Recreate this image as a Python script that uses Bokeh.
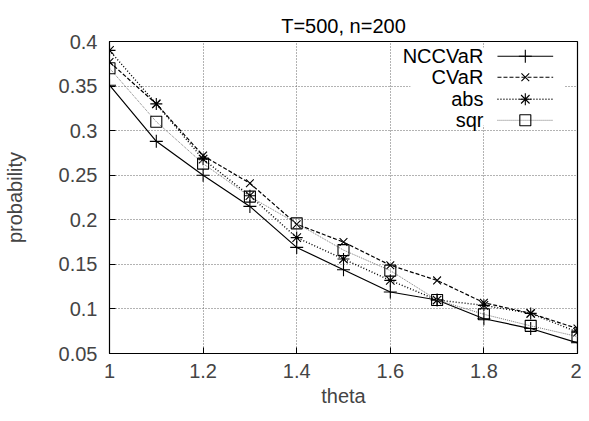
from bokeh.plotting import figure
from bokeh.models import Range1d
from bokeh.core.properties import value
from bokeh.embed import file_html
from bokeh.resources import INLINE

# ---- data ----
theta = [1.0, 1.1, 1.2, 1.3, 1.4, 1.5, 1.6, 1.7, 1.8, 1.9, 2.0]
nccvar = [0.351, 0.288, 0.250, 0.215, 0.169, 0.144, 0.119, 0.110, 0.089, 0.078, 0.062]
cvar = [0.377, 0.330, 0.272, 0.241, 0.195, 0.175, 0.149, 0.132, 0.107, 0.095, 0.078]
absv = [0.390, 0.330, 0.268, 0.227, 0.180, 0.156, 0.132, 0.110, 0.104, 0.095, 0.074]
sqr = [0.370, 0.310, 0.263, 0.226, 0.196, 0.166, 0.143, 0.110, 0.094, 0.081, 0.069]
series_names = ["NCCVaR", "CVaR", "abs", "sqr"]
x_ticks = [1.0, 1.2, 1.4, 1.6, 1.8, 2.0]
x_tick_labels = ["1", "1.2", "1.4", "1.6", "1.8", "2"]
y_ticks = [0.05, 0.1, 0.15, 0.2, 0.25, 0.3, 0.35, 0.4]
y_tick_labels = ["0.05", "0.1", "0.15", "0.2", "0.25", "0.3", "0.35", "0.4"]

FONT = "Liberation Sans"
FS = "20px"
X0, X1, Y0, Y1 = 1.0, 2.0, 0.05, 0.4

p = figure(width=581, height=413, output_backend="svg", toolbar_location=None,
           x_range=Range1d(X0, X1), y_range=Range1d(Y0, Y1),
           min_border_left=106, min_border_right=4, min_border_top=41, min_border_bottom=60,
           title="T=500, n=200")
p.title.align = "center"
p.title.text_font = FONT
p.title.text_font_size = FS
p.title.text_font_style = "normal"
p.title.text_color = "black"

p.outline_line_color = "black"
p.outline_line_width = 1.2
p.background_fill_color = "white"
p.border_fill_color = "white"

for ax in (p.xaxis[0], p.yaxis[0]):
    ax.major_label_text_font = FONT
    ax.major_label_text_font_size = FS
    ax.axis_label_text_font = FONT
    ax.axis_label_text_font_size = FS
    ax.axis_label_text_font_style = "normal"
    ax.major_tick_in = 6
    ax.major_tick_out = 0
    ax.minor_tick_in = 0
    ax.minor_tick_out = 0
    ax.axis_line_color = "black"
    ax.major_tick_line_color = "black"

p.xaxis.ticker = x_ticks
p.xaxis.major_label_overrides = {t: l for t, l in zip(x_ticks, x_tick_labels)}
p.yaxis.ticker = y_ticks
p.yaxis.major_label_overrides = {t: l for t, l in zip(y_ticks, y_tick_labels)}
p.xaxis.axis_label = "theta"
p.yaxis.axis_label = "probability"
p.xaxis.major_label_standoff = 10
p.xaxis.axis_label_standoff = 4
p.yaxis.major_label_standoff = 12
p.yaxis.axis_label_standoff = 30

p.grid.grid_line_color = "#666666"
p.grid.grid_line_dash = "1 2"
p.grid.grid_line_width = 1

def fx(f):
    return X0 + f * (X1 - X0)

def fy(f):
    return Y0 + f * (Y1 - Y0)

# legend background (white box hides grid)
p.quad(left=[fx(0.643)], right=[fx(0.973)], bottom=[fy(0.731)], top=[fy(0.981)],
       fill_color="white", line_color=None)

styles = [
    dict(dash="solid", color="black", marker="cross", size=13, lw=1.2),
    dict(dash="4 2", color="black", marker="x", size=11, lw=1.2),
    dict(dash="1 2", color="black", marker="asterisk", size=12, lw=1.4),
    dict(dash="1 1", color="#777777", marker="square", size=11, lw=1.0),
]
values = [nccvar, cvar, absv, sqr]

for name, vals, st in zip(series_names, values, styles):
    p.line(theta, vals, line_color=st["color"], line_dash=st["dash"], line_width=st["lw"])
    p.scatter(theta, vals, marker=st["marker"], size=st["size"], line_color="black",
              fill_color=None, line_width=1.1)

# gnuplot-style legend (text left, sample right)
row_fracs = [0.9528, 0.8854, 0.8149, 0.7474]
for i, (name, st) in enumerate(zip(series_names, styles)):
    yy = fy(row_fracs[i])
    p.text(x=[fx(0.799)], y=[yy], text=[name], text_align="right", text_baseline="middle",
           text_font=value(FONT), text_font_size=FS, text_color="black")
    p.line([fx(0.829), fx(0.948)], [yy, yy], line_color=st["color"], line_dash=st["dash"],
           line_width=st["lw"])
    p.scatter([fx(0.8885)], [yy], marker=st["marker"], size=st["size"], line_color="black",
              fill_color=None, line_width=1.1)

open("out.html", "w").write(file_html(p, INLINE))
